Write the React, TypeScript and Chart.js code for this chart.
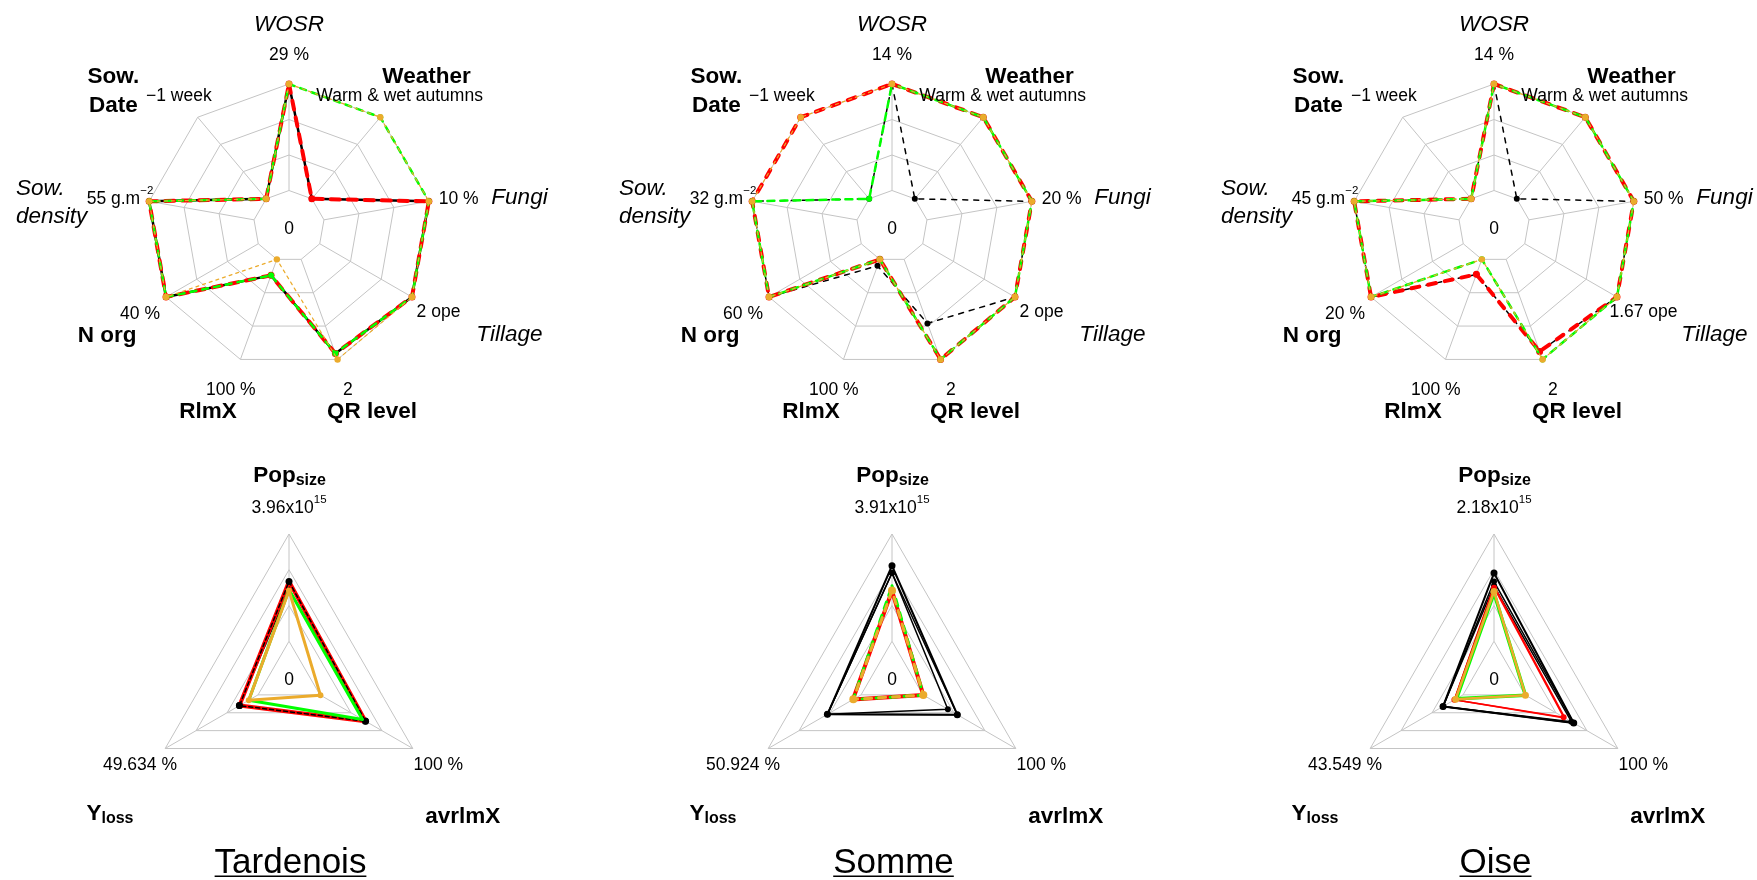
import React, { useEffect, useRef } from 'react';
import { Chart, registerables } from 'chart.js';

Chart.register(...registerables);

const FONT = '"Liberation Sans", Arial, Helvetica, sans-serif';
const BLACK = '#000000';
const RED = '#FF0000';
const GREEN = '#00FF00';
const ORANGE = '#EBAB2C';
const GRID = '#C4C4C4';

// ---------- axes ----------
const topAxes = ['WOSR', 'Weather', 'Fungi', 'Tillage', 'QR level', 'RlmX', 'N org', 'Sow. density', 'Sow. Date'];
const topAxisText = ['WOSR', 'Weather', 'Fungi', 'Tillage', 'QR level', 'RlmX', 'N org', 'Sow.\ndensity', 'Sow.\nDate'];
const topAxisStyle = ['italic', 'bold', 'italic', 'italic', 'bold', 'bold', 'bold', 'italic', 'bold'];
const bottomAxes = ['Pop_size', 'avrlmX', 'Y_loss'];
const regionNames = ['Tardenois', 'Somme', 'Oise'];

// ---------- axis maximum labels ----------
const tardTopTicks = ['29 %', 'Warm & wet autumns', '10 %', '2 ope', '2', '100 %', '40 %', '55 g.m^−2', '−1 week'];
const sommeTopTicks = ['14 %', 'Warm & wet autumns', '20 %', '2 ope', '2', '100 %', '60 %', '32 g.m^−2', '−1 week'];
const oiseTopTicks = ['14 %', 'Warm & wet autumns', '50 %', '1.67 ope', '2', '100 %', '20 %', '45 g.m^−2', '−1 week'];
const tardBotTicks = ['3.96x10^15', '100 %', '49.634 %'];
const sommeBotTicks = ['3.91x10^15', '100 %', '50.924 %'];
const oiseBotTicks = ['2.18x10^15', '100 %', '43.549 %'];

// ---------- values (0 = inner ring / axis minimum, 1 = outer ring / axis maximum) ----------
const tardTopBlack = [1, 0, 1, 1, 0.94, 0.16, 1, 1, 0];
const tardTopRed = [1, 0, 1, 1, 0.94, 0.16, 1, 1, 0];
const tardTopGreen = [1, 1, 1, 1, 0.94, 0.16, 1, 1, 0];
const tardTopOrange = [1, 1, 1, 1, 1, 0, 1, 1, 0];

const sommeTopBlack = [1, 0, 1, 1, 0.64, 0.065, 1, 1, 0];
const sommeTopRed = [1, 1, 1, 1, 1, 0, 1, 1, 1];
const sommeTopGreen = [1, 1, 1, 1, 1, 0, 1, 1, 0];
const sommeTopOrange = [1, 1, 1, 1, 1, 0, 1, 1, 1];

const oiseTopBlack = [1, 0, 1, 1, 0.92, 0.15, 1, 1, 0];
const oiseTopRed = [1, 1, 1, 1, 0.92, 0.15, 1, 1, 0];
const oiseTopGreen = [1, 1, 1, 1, 1, 0, 1, 1, 0];
const oiseTopOrange = [1, 1, 1, 1, 1, 0, 1, 1, 0];

const tardBotBlackB = [0.486, 0.488, 0.2];
const tardBotRed = [0.557, 0.491, 0.2];
const tardBotBlackA = [0.557, 0.491, 0.2];
const tardBotGreen = [0.48, 0.458, 0.1];
const tardBotOrange = [0.473, 0.005, 0.1];

const sommeBotBlackA = [0.704, 0.37, 0.362];
const sommeBotBlackB = [0.636, 0.37, 0.362];
const sommeBotBlackC = [0.636, 0.268, 0.362];
const sommeBotRed = [0.47, 0.004, 0.088];
const sommeBotGreen = [0.517, 0.004, 0.085];
const sommeBotOrange = [0.473, 0.004, 0.083];

const oiseBotBlackA = [0.636, 0.525, 0.215];
const oiseBotBlackB = [0.557, 0.525, 0.215];
const oiseBotBlackC = [0.517, 0.5, 0.215];
const oiseBotRedA = [0.517, 0.43, 0.093];
const oiseBotRedB = [0.5, 0.416, 0.093];
const oiseBotGreen = [0.449, 0.005, 0.07];
const oiseBotOrange = [0.464, 0.005, 0.08];

// ---------- styles ----------
type Style = { color: string; width: number; dash: number[]; offset?: number; radius: number };

const tardTopStyles: Style[] = [
  { color: BLACK, width: 2.5, dash: [], radius: 3 },
  { color: RED, width: 4, dash: [9, 8], radius: 3.5 },
  { color: GREEN, width: 2.5, dash: [6, 6], radius: 3 },
  { color: ORANGE, width: 1.2, dash: [3, 4], radius: 3.2 },
];
const otherTopStyles: Style[] = [
  { color: BLACK, width: 1.5, dash: [5, 6], radius: 3 },
  { color: RED, width: 4, dash: [8, 9], radius: 3.5 },
  { color: GREEN, width: 2.5, dash: [7, 6], offset: 6, radius: 3 },
  { color: ORANGE, width: 1.2, dash: [3, 4], radius: 3.2 },
];
const tardBotStyles: Style[] = [
  { color: BLACK, width: 1.5, dash: [], radius: 3.5 },
  { color: RED, width: 4, dash: [], radius: 0 },
  { color: BLACK, width: 1.5, dash: [4, 3], radius: 3.5 },
  { color: GREEN, width: 3, dash: [], radius: 0 },
  { color: ORANGE, width: 3, dash: [], radius: 3 },
];
const sommeBotStyles: Style[] = [
  { color: BLACK, width: 2, dash: [], radius: 3.5 },
  { color: BLACK, width: 1.5, dash: [], radius: 3 },
  { color: BLACK, width: 1.5, dash: [], radius: 3 },
  { color: RED, width: 4, dash: [], radius: 0 },
  { color: GREEN, width: 3, dash: [7, 7], radius: 0 },
  { color: ORANGE, width: 3, dash: [7, 7], offset: 7, radius: 4 },
];
const oiseBotStyles: Style[] = [
  { color: BLACK, width: 2, dash: [], radius: 3.5 },
  { color: BLACK, width: 1.5, dash: [], radius: 3 },
  { color: BLACK, width: 1.5, dash: [], radius: 3 },
  { color: RED, width: 1.5, dash: [], radius: 0 },
  { color: RED, width: 1.5, dash: [], radius: 3 },
  { color: GREEN, width: 3.5, dash: [], radius: 0 },
  { color: ORANGE, width: 2.5, dash: [], radius: 3.5 },
];

// ---------- label layout (offsets from radar center, alphabetic baseline) ----------
type Pos = { dx: number; dy: number; align: 'left' | 'center' | 'right'; gap?: number };
const topNamePos: Pos[] = [
  { dx: 0, dy: -195, align: 'center' },
  { dx: 137.5, dy: -143, align: 'center' },
  { dx: 230.5, dy: -21.7, align: 'center' },
  { dx: 220.4, dy: 115, align: 'center' },
  { dx: 83, dy: 192, align: 'center' },
  { dx: -81, dy: 192, align: 'center' },
  { dx: -181.8, dy: 116.3, align: 'center' },
  { dx: -273, dy: -30.7, align: 'left', gap: 27.7 },
  { dx: -175.6, dy: -143, align: 'center', gap: 29.3 },
];
const topValuePos: Pos[] = [
  { dx: 0, dy: -165.7, align: 'center' },
  { dx: 110.6, dy: -124.7, align: 'center' },
  { dx: 169.6, dy: -22.3, align: 'center' },
  { dx: 149.5, dy: 91, align: 'center' },
  { dx: 58.9, dy: 168.7, align: 'center' },
  { dx: -58.2, dy: 168.7, align: 'center' },
  { dx: -149, dy: 93.3, align: 'center' },
  { dx: -135.7, dy: -22.3, align: 'right' },
  { dx: -110.2, dy: -124.7, align: 'center' },
];
const bottomNamePos: Pos[] = [
  { dx: 0.5, dy: -195.3, align: 'center' },
  { dx: 173.8, dy: 145.7, align: 'center' },
  { dx: -179, dy: 143, align: 'center' },
];
const bottomValuePos: Pos[] = [
  { dx: 0, dy: -164.3, align: 'center' },
  { dx: 149.3, dy: 93, align: 'center' },
  { dx: -149, dy: 93, align: 'center' },
];

const NAME_SIZE = 22.5;
const VALUE_SIZE = 17.5;
const TITLE_SIZE = 35;
const CANVAS_W = 600;
const CANVAS_H = 440;

type Seg = { t: string; size: number; style?: string; rise?: number };

function fontOf(s: Seg) {
  const st = s.style === 'italic' ? 'italic ' : '';
  const wt = s.style === 'bold' ? 'bold ' : '';
  return `${st}${wt}${s.size}px ${FONT}`;
}

function drawRich(ctx: CanvasRenderingContext2D, x: number, y: number, segs: Seg[], align: string) {
  const widths = segs.map((s) => {
    ctx.font = fontOf(s);
    return ctx.measureText(s.t).width;
  });
  const total = widths.reduce((a, b) => a + b, 0);
  let sx = align === 'left' ? x : align === 'right' ? x - total : x - total / 2;
  const x0 = sx;
  segs.forEach((s, i) => {
    ctx.font = fontOf(s);
    ctx.fillText(s.t, sx, y - (s.rise || 0));
    sx += widths[i];
  });
  return { x0, total };
}

function valueSegs(txt: string): Seg[] {
  const i = txt.indexOf('^');
  if (i < 0) return [{ t: txt, size: VALUE_SIZE }];
  return [
    { t: txt.slice(0, i), size: VALUE_SIZE },
    { t: txt.slice(i + 1), size: 11.5, rise: 9.5 },
  ];
}

function nameSegs(txt: string, style: string): Seg[] {
  const i = txt.indexOf('_');
  if (i < 0) return [{ t: txt, size: NAME_SIZE, style }];
  return [
    { t: txt.slice(0, i), size: NAME_SIZE, style },
    { t: txt.slice(i + 1), size: 16, style, rise: -3.3 },
  ];
}

type PanelCfg = {
  key: string;
  left: number;
  top: number;
  cx: number;
  cy: number;
  R: number;
  axes: string[];
  names: string[];
  nameStyles: string[];
  namePos: Pos[];
  ticks: string[];
  valuePos: Pos[];
  series: number[][];
  styles: Style[];
  title?: string;
};

const panels: PanelCfg[] = [
  { key: 't1', left: -11, top: 0, cx: 300, cy: 226, R: 142, axes: topAxes, names: topAxisText, nameStyles: topAxisStyle, namePos: topNamePos, ticks: tardTopTicks, valuePos: topValuePos, series: [tardTopBlack, tardTopRed, tardTopGreen, tardTopOrange], styles: tardTopStyles },
  { key: 't2', left: 592, top: 0, cx: 300, cy: 226, R: 142, axes: topAxes, names: topAxisText, nameStyles: topAxisStyle, namePos: topNamePos, ticks: sommeTopTicks, valuePos: topValuePos, series: [sommeTopBlack, sommeTopRed, sommeTopGreen, sommeTopOrange], styles: otherTopStyles },
  { key: 't3', left: 1194, top: 0, cx: 300, cy: 226, R: 142, axes: topAxes, names: topAxisText, nameStyles: topAxisStyle, namePos: topNamePos, ticks: oiseTopTicks, valuePos: topValuePos, series: [oiseTopBlack, oiseTopRed, oiseTopGreen, oiseTopOrange], styles: otherTopStyles },
  { key: 'b1', left: -11, top: 440, cx: 300, cy: 237, R: 143, axes: bottomAxes, names: bottomAxes, nameStyles: ['bold', 'bold', 'bold'], namePos: bottomNamePos, ticks: tardBotTicks, valuePos: bottomValuePos, series: [tardBotBlackB, tardBotRed, tardBotBlackA, tardBotGreen, tardBotOrange], styles: tardBotStyles, title: regionNames[0] },
  { key: 'b2', left: 592, top: 440, cx: 300, cy: 237, R: 143, axes: bottomAxes, names: bottomAxes, nameStyles: ['bold', 'bold', 'bold'], namePos: bottomNamePos, ticks: sommeBotTicks, valuePos: bottomValuePos, series: [sommeBotBlackA, sommeBotBlackB, sommeBotBlackC, sommeBotRed, sommeBotGreen, sommeBotOrange], styles: sommeBotStyles, title: regionNames[1] },
  { key: 'b3', left: 1194, top: 440, cx: 300, cy: 237, R: 143, axes: bottomAxes, names: bottomAxes, nameStyles: ['bold', 'bold', 'bold'], namePos: bottomNamePos, ticks: oiseBotTicks, valuePos: bottomValuePos, series: [oiseBotBlackA, oiseBotBlackB, oiseBotBlackC, oiseBotRedA, oiseBotRedB, oiseBotGreen, oiseBotOrange], styles: oiseBotStyles, title: regionNames[2] },
];

function RadarPanel({ cfg }: { cfg: PanelCfg }) {
  const ref = useRef<HTMLCanvasElement>(null);
  useEffect(() => {
    const canvas = ref.current;
    if (!canvas) return;
    const decor = {
      id: 'decor',
      beforeDatasetsDraw(chart: any) {
        const s: any = chart.scales.r;
        const ctx: CanvasRenderingContext2D = chart.ctx;
        const n = chart.data.labels.length;
        const d0 = s.getDistanceFromCenterForValue(0);
        const d1 = s.getDistanceFromCenterForValue(1);
        ctx.save();
        ctx.strokeStyle = GRID;
        ctx.lineWidth = 1;
        for (let i = 0; i < n; i++) {
          const a = s.getPointPosition(i, d0);
          const b = s.getPointPosition(i, d1);
          ctx.beginPath();
          ctx.moveTo(a.x, a.y);
          ctx.lineTo(b.x, b.y);
          ctx.stroke();
        }
        ctx.restore();
      },
      afterDraw(chart: any) {
        const s: any = chart.scales.r;
        const ctx: CanvasRenderingContext2D = chart.ctx;
        const X = s.xCenter;
        const Y = s.yCenter;
        ctx.save();
        ctx.fillStyle = '#000';
        ctx.textBaseline = 'alphabetic';
        cfg.names.forEach((name, i) => {
          const p = cfg.namePos[i];
          const lines = name.split('\n');
          lines.forEach((ln, k) => {
            drawRich(ctx, X + p.dx, Y + p.dy + k * (p.gap || 0), nameSegs(ln, cfg.nameStyles[i]), p.align);
          });
        });
        cfg.ticks.forEach((tk, i) => {
          const p = cfg.valuePos[i];
          drawRich(ctx, X + p.dx, Y + p.dy, valueSegs(tk), p.align);
        });
        drawRich(ctx, X, Y + 7.5, [{ t: '0', size: VALUE_SIZE }], 'center');
        if (cfg.title) {
          const r = drawRich(ctx, X + 1.5, Y + 196.3, [{ t: cfg.title, size: TITLE_SIZE }], 'center');
          ctx.strokeStyle = '#000';
          ctx.lineWidth = 1.6;
          ctx.beginPath();
          ctx.moveTo(r.x0, Y + 199.3);
          ctx.lineTo(r.x0 + r.total, Y + 199.3);
          ctx.stroke();
        }
        ctx.restore();
      },
    };
    const n = cfg.series.length;
    const chart = new Chart(canvas, {
      type: 'radar',
      data: {
        labels: cfg.axes,
        datasets: cfg.series.map((d, i) => {
          const st = cfg.styles[i];
          return {
            label: `s${i}`,
            data: d,
            borderColor: st.color,
            backgroundColor: 'rgba(0,0,0,0)',
            borderWidth: st.width,
            borderDash: st.dash,
            borderDashOffset: st.offset || 0,
            borderCapStyle: st.dash.length ? 'round' : 'butt',
            borderJoinStyle: 'round',
            fill: false,
            tension: 0,
            pointRadius: st.radius,
            pointHoverRadius: st.radius,
            pointBackgroundColor: st.color,
            pointBorderColor: st.color,
            pointBorderWidth: 0,
            order: n - i,
            clip: false,
          } as any;
        }),
      },
      options: {
        responsive: false,
        maintainAspectRatio: false,
        animation: false,
        devicePixelRatio: 1,
        events: [],
        layout: {
          padding: {
            left: cfg.cx - cfg.R,
            right: CANVAS_W - cfg.cx - cfg.R,
            top: cfg.cy - cfg.R,
            bottom: CANVAS_H - cfg.cy - cfg.R,
          },
        },
        plugins: { legend: { display: false }, tooltip: { enabled: false }, title: { display: false } },
        scales: {
          r: {
            min: -1 / 3,
            max: 1,
            afterBuildTicks: (sc: any) => {
              sc.ticks = [-1 / 3, 0, 1 / 3, 2 / 3, 1].map((v) => ({ value: v }));
            },
            ticks: { display: false },
            grid: {
              color: (c: any) => (c.index === 0 ? 'rgba(0,0,0,0)' : GRID),
              lineWidth: 1,
            },
            angleLines: { display: false },
            pointLabels: { display: false },
          } as any,
        },
      } as any,
      plugins: [decor],
    });
    return () => chart.destroy();
  }, []);
  return (
    <canvas
      ref={ref}
      width={CANVAS_W}
      height={CANVAS_H}
      style={{ position: 'absolute', left: cfg.left, top: cfg.top, width: CANVAS_W, height: CANVAS_H }}
    />
  );
}

export default function App() {
  return (
    <div
      style={{
        position: 'fixed',
        left: 0,
        top: 0,
        width: 1757,
        height: 880,
        overflow: 'hidden',
        background: '#fff',
      }}
    >
      {panels.map((p) => (
        <RadarPanel key={p.key} cfg={p} />
      ))}
    </div>
  );
}
